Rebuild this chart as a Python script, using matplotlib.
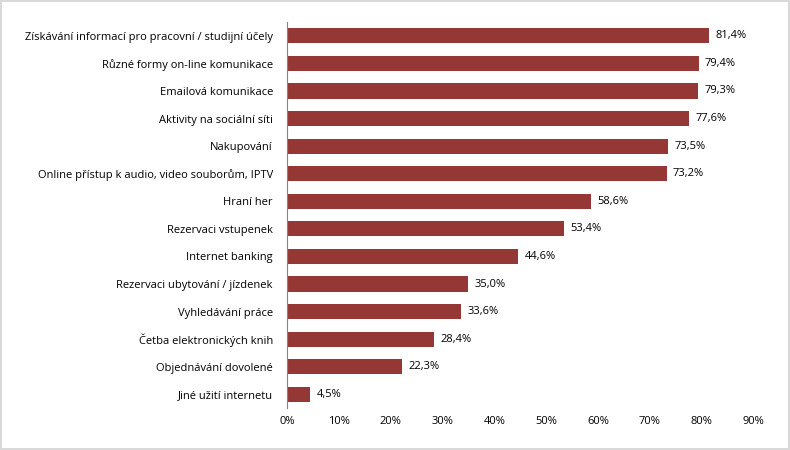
import matplotlib.pyplot as plt
from matplotlib.ticker import FuncFormatter

categories = [
    "Získávání informací pro pracovní / studijní účely",
    "Různé formy on-line komunikace",
    "Emailová komunikace",
    "Aktivity na sociální síti",
    "Nakupování",
    "Online přístup k audio, video souborům, IPTV",
    "Hraní her",
    "Rezervaci vstupenek",
    "Internet banking",
    "Rezervaci ubytování / jízdenek",
    "Vyhledávání práce",
    "Četba elektronických knih",
    "Objednávání dovolené",
    "Jiné užití internetu",
]
values = [81.4, 79.4, 79.3, 77.6, 73.5, 73.2, 58.6, 53.4, 44.6, 35.0, 33.6, 28.4, 22.3, 4.5]

plt.rcParams["font.family"] = "Open Sans"
fig = plt.figure(figsize=(7.9, 4.5), dpi=100)
fig.patch.set_edgecolor("#d9d9d9")
fig.patch.set_linewidth(1.5)
ax = fig.add_axes([0.363, 0.093, 0.591, 0.858])

y = list(range(len(categories)))
ax.barh(y, values, height=0.55, color="#953735")
for yi, v in zip(y, values):
    ax.text(v + 1.2, yi, f"{v:.1f}%".replace(".", ","), va="center", ha="left", fontsize=8)

ax.set_yticks(y)
ax.set_yticklabels(categories, fontsize=8)
ax.set_ylim(len(categories) - 0.5, -0.5)
ax.set_xlim(0, 90)
ax.set_xticks(range(0, 91, 10))
ax.xaxis.set_major_formatter(FuncFormatter(lambda v, p: f"{v:.0f}%"))
ax.tick_params(axis="x", labelsize=8, length=0, pad=6)
ax.tick_params(axis="y", length=0, pad=10)
for s in ["top", "right", "bottom"]:
    ax.spines[s].set_visible(False)
ax.spines["left"].set_color("#868686")

fig.savefig("out.png", dpi=100, edgecolor=fig.get_edgecolor())
